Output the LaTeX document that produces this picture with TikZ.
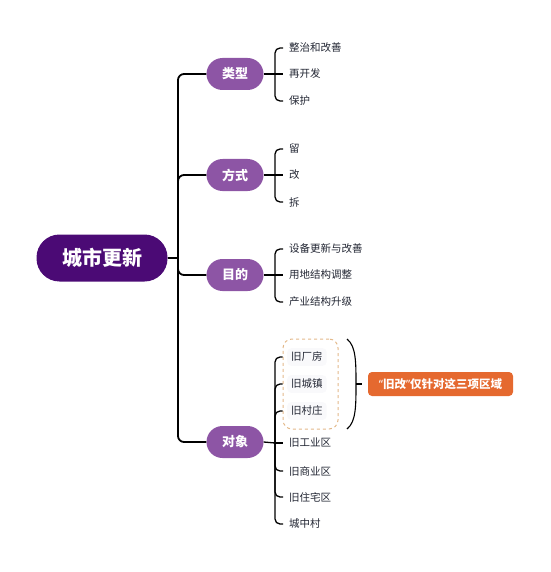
\documentclass[tikz,border=0pt]{standalone}
\usepackage{fontspec}
\setmainfont{Noto Sans CJK SC}
\newfontfamily\quotefont{Noto Sans}
\usetikzlibrary{positioning}
\definecolor{RootPurple}{HTML}{4B0A75}
\definecolor{BranchPurple}{HTML}{8D55A5}
\definecolor{NoteOrange}{HTML}{E5692F}
\definecolor{DashTan}{HTML}{E3B98A}
\definecolor{LeafText}{HTML}{222633}
\definecolor{LeafBg}{HTML}{F9F9FB}

\begin{document}
\begin{tikzpicture}[x=1pt,y=-1pt,
    every node/.style={font=\fontsize{10.5}{12}\selectfont},
    rootbox/.style={fill=RootPurple, text=white, rounded corners=23pt,
      minimum width=131pt, minimum height=47pt, inner sep=0pt,
      font=\fontsize{20}{24}\selectfont\bfseries},
    branchbox/.style={fill=BranchPurple, text=white, rounded corners=16pt,
      minimum width=57pt, minimum height=32pt, inner sep=0pt,
      font=\fontsize{13}{16}\selectfont\bfseries},
    leaf/.style={anchor=west, text=LeafText, inner xsep=6pt, inner ysep=2pt},
    leafin/.style={leaf, fill=LeafBg, rounded corners=4pt, inner xsep=4pt, inner ysep=4pt},
    notebox/.style={fill=NoteOrange, text=white, rounded corners=4pt,
      minimum height=24pt, minimum width=145pt, inner xsep=6pt,
      font=\fontsize{11.5}{13}\selectfont\bfseries},
    trunk/.style={draw=black, line width=1.8pt, rounded corners=6pt},
    twig/.style={draw=black, line width=1.3pt, rounded corners=5pt}]
  \useasboundingbox (0,0) rectangle (550,572);

  % root and main branches
  \node[rootbox] (city) at (102,258) {城市更新};
  \node[branchbox] (kind) at (235,74) {类型};
  \node[branchbox] (way) at (235,175) {方式};
  \node[branchbox] (aim) at (235,275) {目的};
  \node[branchbox] (obj) at (235,442) {对象};
  \coordinate (hub) at (178,258);
  \draw[trunk] (city.east) -- (hub);
  \draw[trunk] (hub) |- (kind.west);
  \draw[trunk] (hub) |- (way.west);
  \draw[trunk] (hub) |- (aim.west);
  \draw[trunk] (hub) |- (obj.west);

  % 类型
  \node[leaf] (kind1) at (283,48) {整治和改善};
  \node[leaf] (kind2) at (283,74) {再开发};
  \node[leaf] (kind3) at (283,101) {保护};
  \coordinate (kindj) at (275,74);
  \draw[twig] (kind.east) -- (kindj);
  \draw[twig] (kindj) |- (kind1.west);
  \draw[twig] (kindj) -- (kind2.west);
  \draw[twig] (kindj) |- (kind3.west);

  % 方式
  \node[leaf] (way1) at (283,149) {留};
  \node[leaf] (way2) at (283,175) {改};
  \node[leaf] (way3) at (283,202) {拆};
  \coordinate (wayj) at (275,175);
  \draw[twig] (way.east) -- (wayj);
  \draw[twig] (wayj) |- (way1.west);
  \draw[twig] (wayj) -- (way2.west);
  \draw[twig] (wayj) |- (way3.west);

  % 目的
  \node[leaf] (aim1) at (283,249) {设备更新与改善};
  \node[leaf] (aim2) at (283,275) {用地结构调整};
  \node[leaf] (aim3) at (283,302) {产业结构升级};
  \coordinate (aimj) at (275,275);
  \draw[twig] (aim.east) -- (aimj);
  \draw[twig] (aimj) |- (aim1.west);
  \draw[twig] (aimj) -- (aim2.west);
  \draw[twig] (aimj) |- (aim3.west);

  % 对象
  \node[draw=DashTan, dashed, line width=1pt, rounded corners=9pt,
        minimum width=55pt, minimum height=90pt] (grp) at (310.5,384) {};
  \node[leafin] (obj1) at (287,357) {旧厂房};
  \node[leafin] (obj2) at (287,384) {旧城镇};
  \node[leafin] (obj3) at (287,411) {旧村庄};
  \node[leaf] (obj4) at (283,443) {旧工业区};
  \node[leaf] (obj5) at (283,471) {旧商业区};
  \node[leaf] (obj6) at (283,497) {旧住宅区};
  \node[leaf] (obj7) at (283,524) {城中村};
  \coordinate (objj) at (275,443);
  \draw[twig] (obj.east) -- (objj);
  \draw[twig] (objj) |- (grp.west |- obj1.west);
  \draw[twig] (objj) |- (grp.west |- obj2.west);
  \draw[twig] (objj) |- (grp.west |- obj3.west);
  \draw[twig] (objj) -- (obj4.west);
  \draw[twig] (objj) |- (obj5.west);
  \draw[twig] (objj) |- (obj6.west);
  \draw[twig] (objj) |- (obj7.west);

  % brace and note
  \node[notebox] (note) at (440.5,384) {{\quotefont“}旧改{\quotefont”}仅针对这三项区域};
  \coordinate (brtop) at (347,339);
  \coordinate (brmid) at (356,384);
  \coordinate (brbot) at (347,429);
  \coordinate (brtip) at (362,384);
  \draw[line width=1.1pt] (brtop) .. controls (356,346) and (356,362) .. (brmid)
    .. controls (356,406) and (356,422) .. (brbot);
  \draw[line width=1.1pt] (brmid) -- (brtip);
\end{tikzpicture}
\end{document}
